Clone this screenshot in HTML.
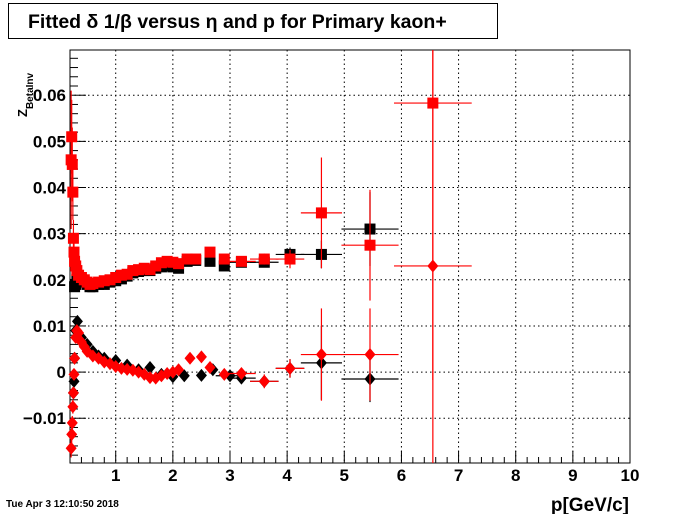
<!DOCTYPE html>
<html><head><meta charset="utf-8"><style>
html,body{margin:0;padding:0;background:#fff}
svg{display:block;font-family:"Liberation Sans",Arial,sans-serif}
</style></head><body>
<svg id="c" width="700" height="514" viewBox="0 0 700 514">
<rect width="700" height="514" fill="#fff"/>
<g>
<rect x="8.5" y="3.5" width="489" height="35" fill="#fff" stroke="#000"/>
<text x="28" y="28" font-size="19.5" font-weight="bold">Fitted δ 1/β versus η and p for Primary kaon+</text>
</g>
<g id="grid"></g>
<g id="axes"></g>
<g id="marks"></g>
<text transform="translate(27,117) rotate(-90)" font-size="13" font-weight="bold">Z<tspan font-size="10" dy="6">BetaInv</tspan></text>
<text x="629" y="511" font-size="19" font-weight="bold" text-anchor="end">p[GeV/c]</text>
<text x="6" y="507" font-size="10" font-weight="bold">Tue Apr  3 12:10:50 2018</text>
</svg>
<script>
const xTicks=[1,2,3,4,5,6,7,8,9,10];
const yTicks=[-0.01,0,0.01,0.02,0.03,0.04,0.05,0.06];
const yTickLabels=["−0.01","0","0.01","0.02","0.03","0.04","0.05","0.06"];
// black squares
const bsP=[0.28,0.3,0.32,0.35,0.4,0.45,0.5,0.55,0.6,0.7,0.8,0.9,1.0,1.1,1.2,1.3,1.4,1.5,1.6,1.7,1.8,1.9,2.0,2.1,2.25,2.4,2.65,2.9,3.2,3.6,4.05,4.6,5.45];
const bsV=[0.0185,0.019,0.02,0.0205,0.02,0.0195,0.019,0.0185,0.0185,0.019,0.019,0.0195,0.0198,0.0202,0.0208,0.0215,0.0218,0.022,0.022,0.0225,0.0228,0.023,0.0228,0.0225,0.024,0.0242,0.024,0.023,0.0238,0.0238,0.0255,0.0255,0.031];
const bsE=[0.001,0.001,0.001,0.0005,0.0005,0.0005,0.0005,0.0005,0.0005,0.0005,0.0005,0.0005,0.0005,0.0005,0.0005,0.0005,0.0005,0.0005,0.0005,0.0005,0.0005,0.0005,0.0005,0.0005,0.0006,0.0006,0.0008,0.0008,0.0008,0.001,0.0015,0.003,0.008];
// red squares
const rsP=[0.22,0.23,0.24,0.25,0.26,0.27,0.28,0.3,0.32,0.35,0.4,0.45,0.5,0.55,0.6,0.7,0.8,0.9,1.0,1.1,1.2,1.3,1.4,1.5,1.6,1.7,1.8,1.9,2.0,2.1,2.25,2.4,2.65,2.9,3.2,3.6,4.05,4.6,5.45,6.55];
const rsV=[0.046,0.051,0.045,0.039,0.029,0.026,0.024,0.023,0.022,0.021,0.0205,0.02,0.0195,0.019,0.0192,0.0195,0.0198,0.02,0.0205,0.021,0.0212,0.022,0.0222,0.0225,0.0222,0.023,0.0237,0.024,0.0238,0.0235,0.0245,0.0245,0.026,0.0245,0.024,0.0245,0.0245,0.0345,0.0275,0.0583];
const rsE=[0.015,0.008,0.008,0.006,0.004,0.002,0.002,0.001,0.001,0.001,0.0005,0.0005,0.0005,0.0005,0.0005,0.0005,0.0005,0.0005,0.0005,0.0005,0.0005,0.0005,0.0005,0.0005,0.0005,0.0005,0.0005,0.0005,0.0005,0.0005,0.0006,0.0006,0.0008,0.0008,0.0008,0.0012,0.002,0.012,0.012,0.06];
// black diamonds
const bdP=[0.26,0.27,0.28,0.3,0.33,0.4,0.5,0.6,0.7,0.8,1.0,1.2,1.4,1.6,1.8,2.0,2.2,2.5,2.7,3.0,3.2,3.6,4.05,4.6,5.45];
const bdV=[-0.0045,-0.002,0.003,0.009,0.011,0.0075,0.006,0.0045,0.0035,0.003,0.0025,0.0015,0.0005,0.001,-0.0005,-0.001,-0.0008,-0.0007,0.0005,-0.0008,-0.0013,-0.002,0.0008,0.002,-0.0015];
const bdE=[0.001,0.001,0.001,0.001,0.001,0.0005,0.0005,0.0005,0.0005,0.0005,0.0005,0.0005,0.0005,0.0005,0.0005,0.0005,0.0005,0.0005,0.0007,0.0007,0.001,0.001,0.002,0.008,0.005];
// red diamonds
const rdP=[0.22,0.23,0.24,0.25,0.26,0.27,0.28,0.3,0.32,0.35,0.4,0.45,0.5,0.6,0.7,0.8,0.9,1.0,1.1,1.2,1.3,1.4,1.5,1.6,1.7,1.8,1.9,2.0,2.1,2.3,2.5,2.65,2.9,3.2,3.6,4.05,4.6,5.45,6.55];
const rdV=[-0.0165,-0.0135,-0.011,-0.0075,-0.0045,-0.0005,0.003,0.0075,0.009,0.0085,0.0065,0.0055,0.0045,0.0035,0.003,0.0022,0.0018,0.0012,0.0008,0.0006,0.0004,0.0,-0.0005,-0.0012,-0.0013,-0.0008,-0.0003,0.0,0.0005,0.003,0.0033,0.001,-0.0005,-0.0003,-0.002,0.0008,0.0038,0.0038,0.023];
const rdE=[0.002,0.002,0.0015,0.0015,0.0012,0.001,0.001,0.001,0.001,0.0008,0.0006,0.0005,0.0005,0.0005,0.0005,0.0005,0.0005,0.0005,0.0005,0.0005,0.0005,0.0005,0.0005,0.0005,0.0005,0.0005,0.0005,0.0005,0.0005,0.0005,0.0005,0.0006,0.0008,0.0008,0.0015,0.002,0.01,0.01,0.06];

const X0=70,X1=630,Y0=50,Y1=463,PMIN=0.2,PMAX=10,VMIN=-0.0197,VMAX=0.0698;
const sx=p=>X0+(p-PMIN)/(PMAX-PMIN)*(X1-X0);
const sy=v=>Y1-(v-VMIN)/(VMAX-VMIN)*(Y1-Y0);
const NS='http://www.w3.org/2000/svg';
function mk(tag,attrs,parent){const e=document.createElementNS(NS,tag);for(const k in attrs)e.setAttribute(k,attrs[k]);parent.appendChild(e);return e;}
const grid=document.getElementById('grid'),axes=document.getElementById('axes'),marks=document.getElementById('marks');
xTicks.forEach(t=>{
  const x=sx(t);
  if(t<10){const g=mk('line',{x1:x,x2:x,y1:Y0,y2:Y1,stroke:'#000','stroke-dasharray':'1.5,3'},grid);
  
  }
  const l=mk('text',{x:x,y:481,'font-size':17,'font-weight':'bold','text-anchor':'middle'},axes);
  l.textContent=String(t);
  
  
});
yTicks.forEach((t,i)=>{
  const y=sy(t);
  const g=mk('line',{x1:X0,x2:X1,y1:y,y2:y,stroke:'#000','stroke-dasharray':'1.5,3'},grid);
  
  
  const l=mk('text',{x:66,y:y+6,'font-size':17,'font-weight':'bold','text-anchor':'end'},axes);
  l.textContent=yTickLabels[i];
  
  
});
const frame=mk('rect',{x:X0,y:Y0,width:X1-X0,height:Y1-Y0,fill:'none',stroke:'#000'},axes);


for(let p=0.2;p<=10.001;p+=0.2){const x=sx(p);const maj=Math.abs(p-Math.round(p))<0.01;
  mk('line',{x1:x,x2:x,y1:Y1,y2:Y1-(maj?12:6),stroke:'#000'},axes);}
for(let v=-0.018;v<=0.0695;v+=0.002){const y=sy(v);const maj=Math.abs(v/0.01-Math.round(v/0.01))<0.01;
  mk('line',{x1:X0,x2:X0+(maj?16:8),y1:y,y2:y,stroke:'#000'},axes);}
function xerr(p){return p<1?0.02:p<3?0.08:p<4.3?0.25:p<5?0.36:p<6?0.5:0.68;}
function draw(P,V,E,color,shape,name){
  const g=mk('g',{},marks);
  
  
  P.forEach((p,i)=>{
    const x=sx(p),y=sy(V[i]),xe=xerr(p);
    mk('line',{x1:sx(p-xe),x2:sx(p+xe),y1:y,y2:y,stroke:color,'stroke-width':1.2},g);
    mk('line',{x1:x,x2:x,y1:Math.max(Y0,sy(V[i]+E[i])),y2:Math.min(Y1,sy(V[i]-E[i])),stroke:color,'stroke-width':1.2},g);
    let m;
    if(shape==='sq') m=mk('rect',{x:x-5.5,y:y-5.5,width:11,height:11,fill:color},g);
    else m=mk('polygon',{points:`${x},${y-6.5} ${x+5.5},${y} ${x},${y+6.5} ${x-5.5},${y}`,fill:color},g);
    
    
  });
}
draw(bsP,bsV,bsE,'#000','sq','black-squares');
draw(bdP,bdV,bdE,'#000','di','black-diamonds');
draw(rsP,rsV,rsE,'#f00','sq','red-squares');
draw(rdP,rdV,rdE,'#f00','di','red-diamonds');
</script>
</body></html>
